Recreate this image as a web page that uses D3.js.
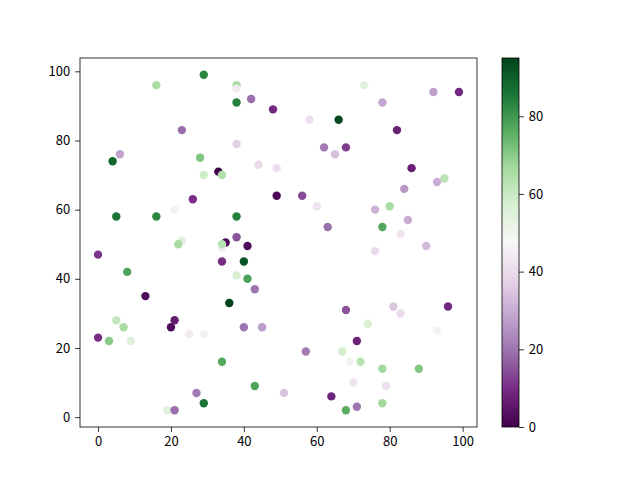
<!DOCTYPE html>
<html>
<head>
<meta charset="utf-8">
<script src="https://cdn.jsdelivr.net/npm/d3@7"></script>
<style>
	body { margin: 0; background: #fff; }
	text { font-family: "Noto Sans CJK SC", "DejaVu Sans", sans-serif; font-size: 13px; fill: #000; }
</style>
</head>
<body>
<div id="main-view"></div>
<script>
// point positions and colour values
var xs = [16, 29, 38, 38, 42, 38, 48, 23, 38, 6, 4, 28, 44, 49, 33, 29, 34, 49, 26, 5,
	16, 21, 38, 38, 35, 41, 23, 22, 34, 34, 0, 34, 40, 8, 38, 41, 43, 13, 36, 5,
	21, 7, 20, 40, 45, 0, 3, 9, 25, 29, 34, 43, 27, 29, 19, 21, 73, 92, 99, 78,
	58, 66, 82, 62, 68, 65, 86, 95, 93, 84, 56, 60, 76, 80, 85, 63, 78, 83, 90, 76,
	68, 81, 83, 96, 74, 93, 71, 57, 67, 69, 72, 78, 88, 70, 79, 51, 64, 71, 68, 78];
var ys = [96, 99, 96, 95, 92, 91, 89, 83, 79, 76, 74, 75, 73, 72, 71, 70, 70, 64, 63, 58,
	58, 60, 58, 52, 50.5, 49.5, 51, 50, 49, 50, 47, 45, 45, 42, 41, 40, 37, 35, 33, 28,
	28, 26, 26, 26, 26, 23, 22, 22, 24, 24, 16, 9, 7, 4, 2, 2, 96, 94, 94, 91,
	86, 86, 83, 78, 78, 76, 72, 69, 68, 66, 64, 61, 60, 61, 57, 55, 55, 53, 49.5, 48,
	31, 32, 30, 32, 27, 25, 22, 19, 19, 16, 16, 14, 14, 10, 9, 7, 6, 3, 2, 4];
var cs = [66, 83, 66, 44, 19, 84, 9, 19, 37, 28, 89, 71, 40, 41, 0, 59, 64, 2, 10, 86,
	83, 50, 84, 15, 2, 3, 55, 66, 45, 63, 11, 10, 92, 78, 57, 78, 20, 3, 95, 61,
	6, 66, 3, 20, 27, 10, 70, 55, 44, 46, 77, 78, 21, 86, 55, 19, 55, 28, 9, 29,
	41, 94, 7, 21, 12, 34, 7, 63, 30, 26, 14, 42, 31, 66, 30, 19, 77, 42, 33, 40,
	15, 35, 40, 9, 57, 46, 8, 21, 58, 50, 63, 67, 71, 42, 41, 35, 8, 20, 76, 67];
var xTicks = [0, 20, 40, 60, 80, 100];
var yTicks = [0, 20, 40, 60, 80, 100];
var cTicks = [0, 20, 40, 60, 80];

function drawChart() {
	var width = 640, height = 480;
	var axLeft = 80, axRight = 477, axTop = 58, axBottom = 427;
	var cbLeft = 502, cbRight = 519;

	var points = xs.map(function(x, i) {
		return { x: x, y: ys[i], c: cs[i] };
	});

	var xMin = d3.min(xs), xMax = d3.max(xs);
	var yMin = d3.min(ys), yMax = d3.max(ys);
	var xPad = (xMax - xMin) * 0.05, yPad = (yMax - yMin) * 0.05;

	var x = d3.scaleLinear().domain([xMin - xPad, xMax + xPad]).range([axLeft, axRight]);
	var y = d3.scaleLinear().domain([yMin - yPad, yMax + yPad]).range([axBottom, axTop]);

	var cMin = d3.min(cs), cMax = d3.max(cs);
	var prgn = d3.schemePRGn[11];
	var color = d3.scaleLinear()
		.domain(d3.range(11).map(function(i) { return cMin + i * (cMax - cMin) / 10 }))
		.range(prgn);
	var cy = d3.scaleLinear().domain([cMin, cMax]).range([axBottom, axTop]);

	var svg = d3.select('#main-view')
		.append('svg')
		.attr('width', width)
		.attr('height', height);

	svg.append('g')
		.selectAll('circle')
		.data(points)
		.enter()
		.append('circle')
		.attr('cx', function(d) { return x(d.x) })
		.attr('cy', function(d) { return y(d.y) })
		.attr('r', 4.2)
		.style('fill', function(d) { return color(d.c) });

	svg.append('rect')
		.attr('x', axLeft).attr('y', axTop)
		.attr('width', axRight - axLeft).attr('height', axBottom - axTop)
		.style('fill', 'none').style('stroke', '#000').style('stroke-width', 0.8);

	var xAxis = svg.append('g')
		.attr('transform', 'translate(0,' + axBottom + ')')
		.call(d3.axisBottom(x).tickValues(xTicks).tickSize(4.9).tickPadding(4.9));
	var yAxis = svg.append('g')
		.attr('transform', 'translate(' + axLeft + ',0)')
		.call(d3.axisLeft(y).tickValues(yTicks).tickSize(4.9).tickPadding(4.9));

	// colourbar
	var grad = svg.append('defs').append('linearGradient')
		.attr('id', 'cbar')
		.attr('x1', 0).attr('y1', 1).attr('x2', 0).attr('y2', 0);
	grad.selectAll('stop')
		.data(prgn)
		.enter()
		.append('stop')
		.attr('offset', function(d, i) { return i / 10 })
		.attr('stop-color', function(d) { return d });

	svg.append('rect')
		.attr('x', cbLeft).attr('y', axTop)
		.attr('width', cbRight - cbLeft).attr('height', axBottom - axTop)
		.style('fill', 'url(#cbar)').style('stroke', '#000').style('stroke-width', 0.8);

	var cAxis = svg.append('g')
		.attr('transform', 'translate(' + cbRight + ',0)')
		.call(d3.axisRight(cy).tickValues(cTicks).tickSize(4.9).tickPadding(4.9));

	[xAxis, yAxis, cAxis].forEach(function(a) {
		a.select('.domain').remove();
		a.selectAll('line').style('stroke', '#000').style('stroke-width', 0.8);
		a.selectAll('text').style('font-size', '13px').style('font-family', '"Noto Sans CJK SC", "DejaVu Sans", sans-serif');
	});
}

drawChart();
</script>
</body>
</html>
